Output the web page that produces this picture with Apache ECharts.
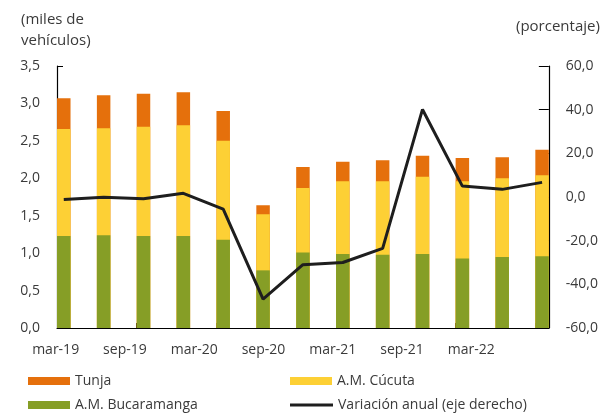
<!DOCTYPE html>
<html lang="es">
<head>
<meta charset="utf-8">
<title>Vehículos</title>
<script src="https://cdn.jsdelivr.net/npm/echarts@6/dist/echarts.min.js"></script>
<style>
	html,body{margin:0;padding:0;background:#fff;}
	#chart{width:601px;height:414px;}
</style>
</head>
<body>
<div id="chart"></div>
<script>
// trimestres
var periodos=['mar-19','jun-19','sep-19','dic-19','mar-20','jun-20','sep-20','dic-20','mar-21','jun-21','sep-21','dic-21','mar-22'];
var etiquetas=['mar-19','sep-19','mar-20','sep-20','mar-21','sep-21','mar-22'];
// miles de vehículos
var bucaramanga=[1.23,1.24,1.23,1.23,1.18,0.77,1.01,0.99,0.98,0.99,0.93,0.95,0.96];
var cucuta=[1.43,1.43,1.46,1.48,1.32,0.75,0.86,0.97,0.98,1.03,1.03,1.05,1.08];
var tunja=[0.41,0.44,0.44,0.44,0.40,0.12,0.28,0.26,0.28,0.28,0.31,0.28,0.34];
// variación anual (%)
var variacion=[-1.1,-0.1,-0.8,1.7,-5.6,-46.8,-31.0,-30.0,-23.5,40.1,5.0,3.5,6.7];

var fuente='"Open Sans", sans-serif';
var gris='#3a3a3a';

function coma(v,d){ return v.toFixed(d).replace('.',','); }
function pares(arr){
	var out=[];
	for(var i=0;i<arr.length;i++) out.push([i,arr[i]]);
	return out;
}
// sumas acumuladas para apilar a mano (el eje x es de valores)
function suma(){
	var out=[];
	for(var i=0;i<periodos.length;i++){
		var s=0;
		for(var k=0;k<arguments.length;k++) s+=arguments[k][i];
		out.push([i,Math.round(s*100)/100]);
	}
	return out;
}

var chart=echarts.init(document.getElementById('chart'));
var option={
	animation:false,
	textStyle:{fontFamily:fuente,color:gris},
	title:[
		{text:'(miles de\nvehículos)',left:16,top:4,textStyle:{fontFamily:fuente,fontSize:15,fontWeight:'normal',color:gris,lineHeight:21}},
		{text:'(porcentaje)',left:511,top:14,textStyle:{fontFamily:fuente,fontSize:15,fontWeight:'normal',color:gris}}
	],
	grid:[
		{left:57,right:51,top:66,bottom:86},
		{left:21,right:95,top:66,bottom:86}
	],
	xAxis:[
		// eje visible: linea base y marcas cada dos trimestres
		{type:'value',gridIndex:0,min:0,max:12.34,interval:2,position:'bottom',
			axisLine:{show:true,onZero:false,lineStyle:{color:'#000',width:1.2}},
			axisTick:{show:true,inside:true,length:5,lineStyle:{color:'#000'}},
			axisLabel:{show:false},splitLine:{show:false}},
		// eje oculto para ubicar barras y linea
		{type:'value',gridIndex:0,min:-0.17,max:12.17,position:'top',show:false,
			axisLine:{show:false,onZero:false},axisTick:{show:false},axisLabel:{show:false},splitLine:{show:false}},
		{type:'category',gridIndex:1,data:etiquetas,
			axisLine:{show:false,onZero:false},axisTick:{show:false},
			axisLabel:{margin:15,fontSize:14,color:gris,fontFamily:fuente}}
	],
	yAxis:[
		{type:'value',gridIndex:0,position:'left',min:0,max:3.5,interval:0.5,
			axisLine:{show:true,onZero:false,lineStyle:{color:'#000',width:1.2}},
			axisTick:{show:true,inside:true,length:6,lineStyle:{color:'#000'}},
			axisLabel:{margin:17,fontSize:14,color:gris,fontFamily:fuente,formatter:function(v){return coma(v,1);}},
			splitLine:{show:false}},
		{type:'value',gridIndex:0,position:'right',min:-60,max:60,interval:20,
			axisLine:{show:true,onZero:false,lineStyle:{color:'#000',width:1.2}},
			axisTick:{show:true,inside:true,length:10,lineStyle:{color:'#000'}},
			axisLabel:{margin:17,fontSize:14,color:gris,fontFamily:fuente,formatter:function(v){return coma(v,1);}},
			splitLine:{show:false}},
		{type:'value',gridIndex:1,show:false,axisLine:{onZero:false}}
	],
	legend:[
		{left:23,top:369,itemWidth:42,itemHeight:8,icon:'rect',data:['Tunja'],textStyle:{fontSize:14,color:gris,fontFamily:fuente}},
		{left:285,top:369,itemWidth:42,itemHeight:8,icon:'rect',data:['A.M. Cúcuta'],textStyle:{fontSize:14,color:gris,fontFamily:fuente}},
		{left:23,top:393,itemWidth:42,itemHeight:8,icon:'rect',data:['A.M. Bucaramanga'],textStyle:{fontSize:14,color:gris,fontFamily:fuente}},
		{left:285,top:393,itemWidth:43,itemHeight:3,icon:'rect',data:['Variación anual (eje derecho)'],textStyle:{fontSize:14,color:gris,fontFamily:fuente}}
	],
	series:[
		{name:'Tunja',type:'bar',xAxisIndex:1,yAxisIndex:0,barWidth:13.5,barGap:'-100%',
			itemStyle:{color:'#E5700C'},data:suma(bucaramanga,cucuta,tunja)},
		{name:'A.M. Cúcuta',type:'bar',xAxisIndex:1,yAxisIndex:0,barWidth:13.5,barGap:'-100%',
			itemStyle:{color:'#FDD035'},data:suma(bucaramanga,cucuta)},
		{name:'A.M. Bucaramanga',type:'bar',xAxisIndex:1,yAxisIndex:0,barWidth:13.5,barGap:'-100%',
			itemStyle:{color:'#869E26'},data:pares(bucaramanga)},
		{name:'Variación anual (eje derecho)',type:'line',xAxisIndex:1,yAxisIndex:1,z:5,
			symbol:'none',lineStyle:{color:'#1e1e1e',width:3},itemStyle:{color:'#1e1e1e'},
			data:pares(variacion)}
	]
};
chart.setOption(option);
</script>
</body>
</html>
